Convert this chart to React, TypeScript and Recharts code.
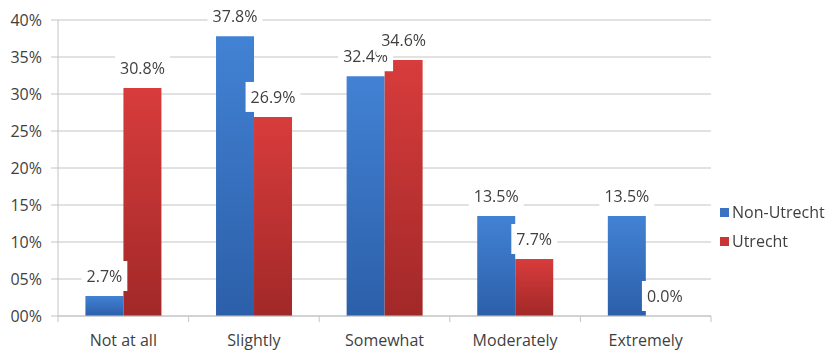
import React from 'react';
import { BarChart, Bar, XAxis, YAxis, CartesianGrid, Legend, LabelList } from 'recharts';

const categories = ['Not at all', 'Slightly', 'Somewhat', 'Moderately', 'Extremely'];
const nonUtrecht = [2.7, 37.8, 32.4, 13.5, 13.5];
const utrecht = [30.8, 26.9, 34.6, 7.7, 0.0];
const yTicks = [0, 5, 10, 15, 20, 25, 30, 35, 40];

const SERIES = [
  { key: 'nonUtrecht', name: 'Non-Utrecht', grad: 'gradBlue', swatch: '#3a73c4' },
  { key: 'utrecht', name: 'Utrecht', grad: 'gradRed', swatch: '#c93434' },
];

const data = categories.map((c, i) => ({ category: c, nonUtrecht: nonUtrecht[i], utrecht: utrecht[i] }));

const FONT = '"Open Sans", sans-serif';
const TEXT = '#3f3f3f';
const GRID = '#c4c4c4';
const W = 826;
const H = 351;
const MARGIN = { top: 20, right: 115, left: 0, bottom: 5 };

// rough glyph widths for the white boxes behind the value labels
const charW = (ch: string) => (ch === '.' ? 4.3 : ch === '%' ? 13.3 : 9.1);
const textWidth = (s: string) => s.split('').reduce((a, ch) => a + charW(ch), 0);

// zero-height bars still need a rect so their label gets placed
const keepZero = (v: number) => (v === 0 ? 0.01 : 0);

const ValueLabel = (props: any) => {
  const { x, y, width, value } = props;
  const label = `${Number(value).toFixed(1)}%`;
  const w = textWidth(label) + 10;
  const h = 30;
  const cx = x + width / 2;
  const bottom = y - 5;
  return (
    <g>
      <rect x={cx - w / 2} y={bottom - h} width={w} height={h} fill="#ffffff" />
      <text x={cx} y={bottom - h / 2 + 6} textAnchor="middle" fontSize={16} fontFamily={FONT} fill={TEXT}>
        {label}
      </text>
    </g>
  );
};

const CategoryTick = (props: any) => {
  const { x, y, payload, width, visibleTicksCount, index } = props;
  const bw = width / visibleTicksCount;
  return (
    <g>
      <line x1={x - bw / 2} y1={y} x2={x - bw / 2} y2={y + 6} stroke={GRID} />
      {index === visibleTicksCount - 1 && (
        <line x1={x + bw / 2} y1={y} x2={x + bw / 2} y2={y + 6} stroke={GRID} />
      )}
      <text x={x} y={y + 30} textAnchor="middle" fontSize={16} fontFamily={FONT} fill={TEXT}>
        {payload.value}
      </text>
    </g>
  );
};

const LegendBox = () => (
  <div style={{ fontFamily: FONT, fontSize: 16, color: TEXT, lineHeight: '29px' }}>
    {SERIES.map((s) => (
      <div key={s.key} style={{ display: 'flex', alignItems: 'center' }}>
        <span style={{ width: 9, height: 9, background: s.swatch, display: 'inline-block', marginRight: 3 }} />
        {s.name}
      </div>
    ))}
  </div>
);

const yFormat = (v: number) => `${String(v).padStart(2, '0')}%`;

export default function App() {
  return (
    <div style={{ position: 'fixed', left: 0, top: 0, width: W, height: H, background: '#fff' }}>
      {/* bars, grid, axes and legend */}
      <div style={{ position: 'absolute', left: 0, top: 0 }}>
        <BarChart width={W} height={H} data={data} margin={MARGIN} barCategoryGap="21%" barGap={0}>
          <defs>
            <linearGradient id="gradBlue" x1="0" y1="0" x2="0" y2="1">
              <stop offset="0%" stopColor="#4282d4" />
              <stop offset="100%" stopColor="#2c5fa9" />
            </linearGradient>
            <linearGradient id="gradRed" x1="0" y1="0" x2="0" y2="1">
              <stop offset="0%" stopColor="#d83c3c" />
              <stop offset="100%" stopColor="#a22828" />
            </linearGradient>
          </defs>
          <CartesianGrid vertical={false} stroke={GRID} />
          <XAxis
            dataKey="category"
            height={30}
            tickLine={false}
            tickSize={0}
            tickMargin={0}
            stroke={GRID}
            interval={0}
            tick={<CategoryTick />}
          />
          <YAxis
            width={58}
            domain={[0, 40]}
            ticks={yTicks}
            interval={0}
            stroke={GRID}
            tickSize={7}
            tickMargin={9}
            tick={{ fontSize: 16, fontFamily: FONT, fill: TEXT }}
            tickFormatter={yFormat}
          />
          <Legend
            layout="horizontal"
            verticalAlign="middle"
            align="center"
            content={<LegendBox />}
            wrapperStyle={{ left: 720, top: 198, width: 110 }}
          />
          {SERIES.map((s) => (
            <Bar key={s.key} dataKey={s.key} name={s.name} fill={`url(#${s.grad})`} isAnimationActive={false} />
          ))}
        </BarChart>
      </div>
      {/* value labels sit on a second layer so every box covers both series */}
      <div style={{ position: 'absolute', left: 0, top: 0 }}>
        <BarChart width={W} height={H} data={data} margin={MARGIN} barCategoryGap="21%" barGap={0}>
          <XAxis dataKey="category" height={30} axisLine={false} tickLine={false} tick={false} />
          <YAxis width={58} domain={[0, 40]} ticks={yTicks} axisLine={false} tickLine={false} tick={false} />
          {SERIES.map((s) => (
            <Bar
              key={s.key}
              dataKey={s.key}
              fill="transparent"
              minPointSize={keepZero}
              isAnimationActive={false}
            >
              <LabelList dataKey={s.key} content={<ValueLabel />} />
            </Bar>
          ))}
        </BarChart>
      </div>
    </div>
  );
}
